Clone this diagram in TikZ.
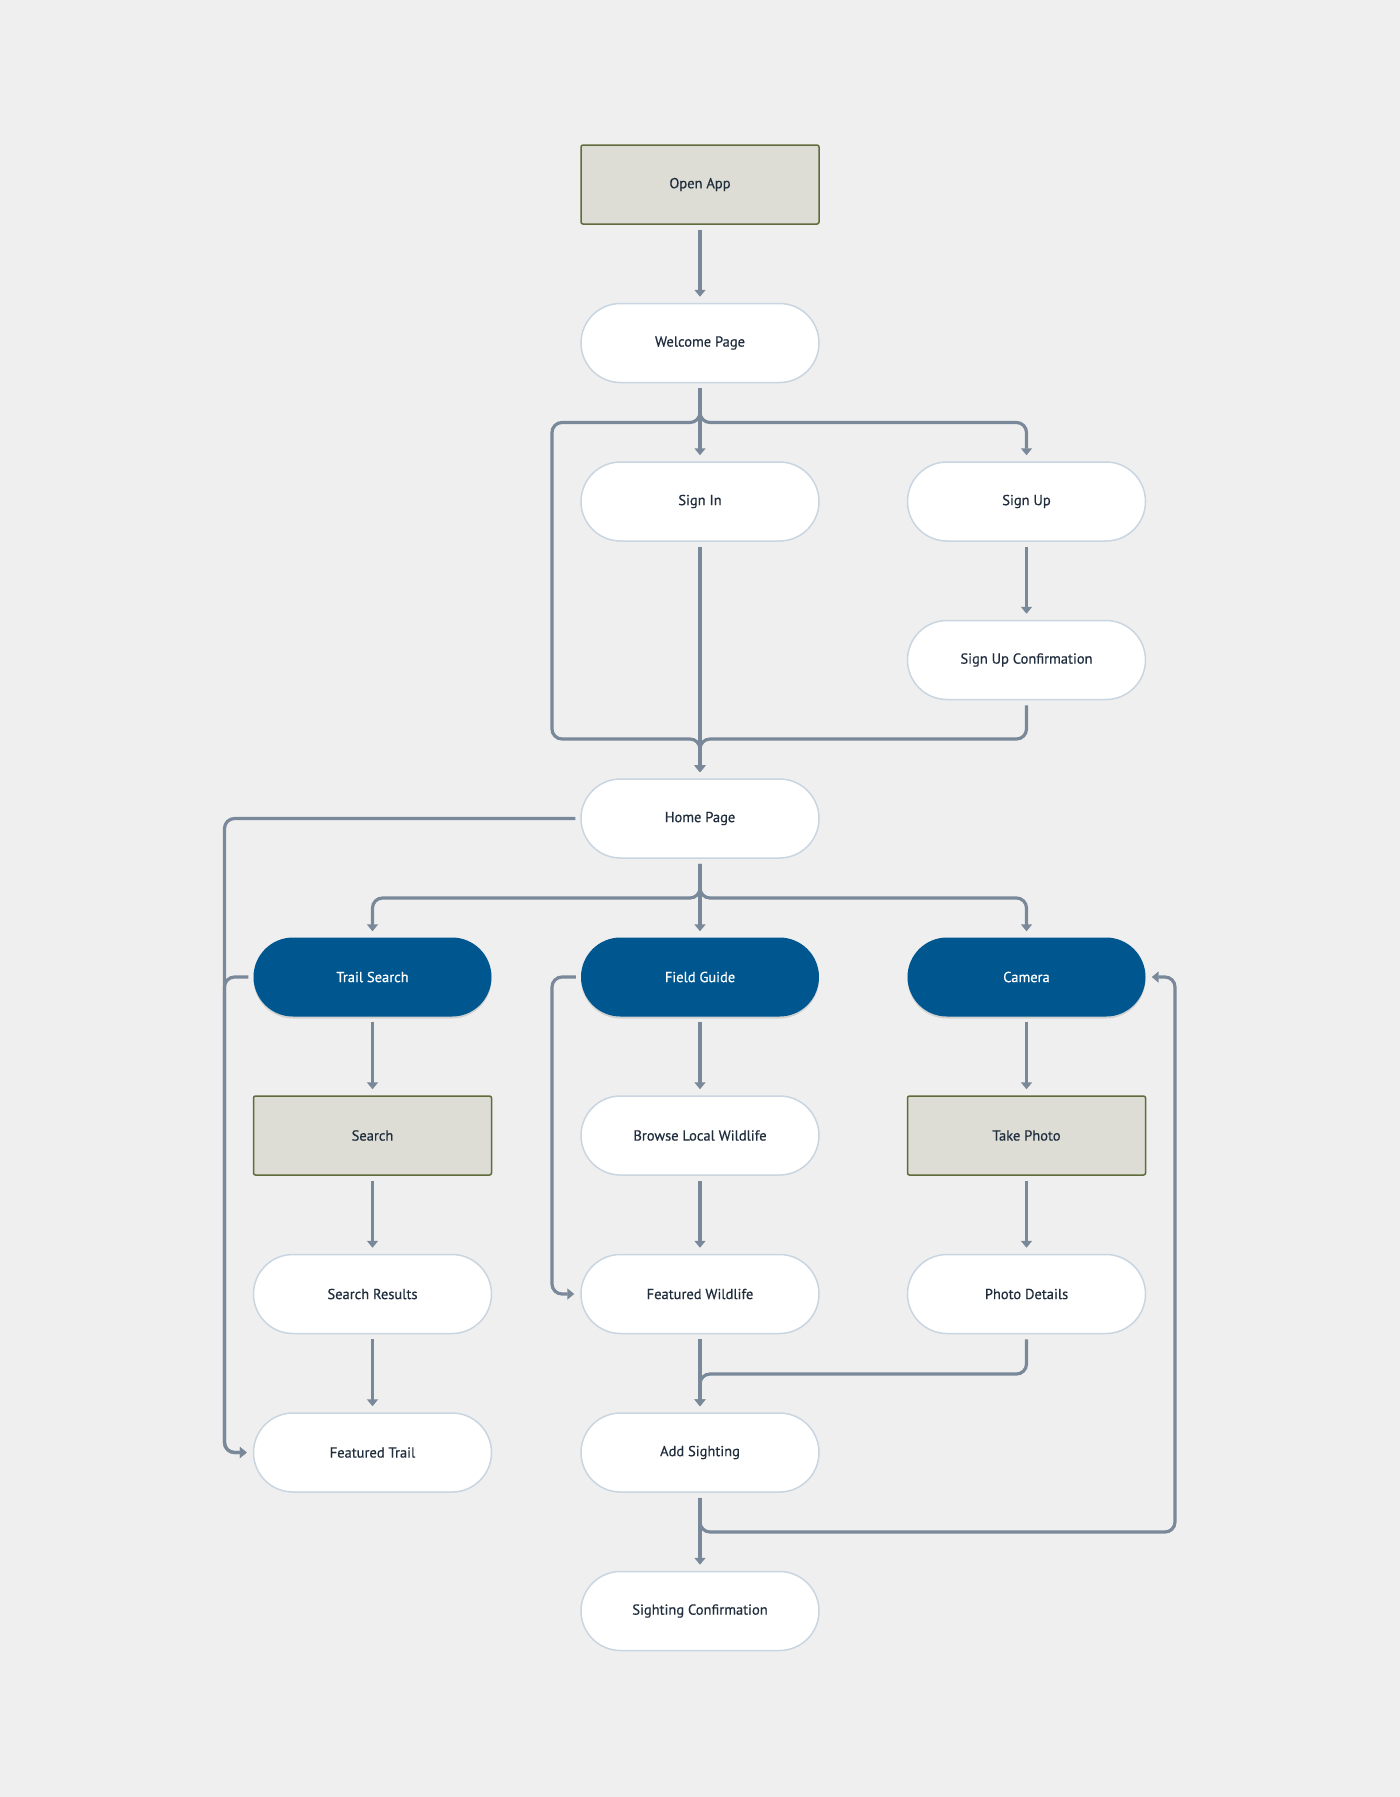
\documentclass[tikz,border=0pt]{standalone}
\usepackage{fontspec}
\setmainfont{PT Sans}
\newfontfamily\nodefont[FakeBold=0.5]{PT Sans}
\usetikzlibrary{arrows.meta,calc,shadows}
\definecolor{bgc}{HTML}{EFEFEF}
\definecolor{linec}{HTML}{7A8999}
\definecolor{pillborder}{HTML}{C9D5E0}
\definecolor{bluec}{HTML}{00578F}
\definecolor{rectfill}{HTML}{DDDDD5}
\definecolor{rectborder}{HTML}{5F6B3B}
\definecolor{textc}{HTML}{1F2D3D}
\tikzset{
  base/.style={minimum width=238pt, minimum height=79pt, inner sep=0pt, font=\nodefont\fontsize{14.5}{16}\selectfont, text=textc},
  pill/.style={base, rounded corners=39.5pt, fill=white, draw=pillborder, line width=1.5pt},
  bluepill/.style={base, rounded corners=39.5pt, fill=bluec, text=white, draw=none,
     drop shadow={shadow xshift=0pt, shadow yshift=-2pt, opacity=0.12, fill=black}},
  actbox/.style={base, rounded corners=2pt, fill=rectfill, draw=rectborder, line width=1.5pt},
  conn/.style={draw=linec, line width=3.2pt, rounded corners=10pt, -{Triangle[width=11pt,length=7pt]}},
}
\begin{document}
\begin{tikzpicture}[x=1pt, y=-1pt]
\fill[bgc] (0,0) rectangle (1400,1797);
\useasboundingbox (0,0) rectangle (1400,1797);

\node[actbox] (open) at (700,184.5) {Open App};
\node[pill] (welcome) at (700,343) {Welcome Page};
\node[pill] (signin) at (700,501.5) {Sign In};
\node[pill] (signup) at (1026.5,501.5) {Sign Up};
\node[pill] (signupc) at (1026.5,660) {Sign Up Confirmation};
\node[pill] (home) at (700,818.5) {Home Page};
\node[bluepill] (trail) at (372.5,977) {Trail Search};
\node[bluepill] (field) at (700,977) {Field Guide};
\node[bluepill] (camera) at (1026.5,977) {Camera};
\node[actbox] (search) at (372.5,1135.5) {Search};
\node[pill] (browse) at (700,1135.5) {Browse Local Wildlife};
\node[actbox] (photo) at (1026.5,1135.5) {Take Photo};
\node[pill] (results) at (372.5,1294) {Search Results};
\node[pill] (featwild) at (700,1294) {Featured Wildlife};
\node[pill] (photodet) at (1026.5,1294) {Photo Details};
\node[pill] (feattrail) at (372.5,1452.5) {Featured Trail};
\node[pill] (addsight) at (700,1452.5) {Add Sighting};
\node[pill] (sightconf) at (700,1611) {Sighting Confirmation};

% straight connectors
\foreach \a/\b in {open/welcome, welcome/signin, signin/home, signup/signupc,
  home/field, trail/search, search/results, results/feattrail,
  field/browse, browse/featwild, featwild/addsight, addsight/sightconf,
  camera/photo, photo/photodet}
  \draw[conn] ($(\a.south)+(0,5)$) -- ($(\b.north)+(0,-6)$);

% welcome branches
\draw[conn] ($(welcome.south)+(0,5)$) |- (1026.5,422.5) -- ($(signup.north)+(0,-6)$);
\draw[conn] ($(welcome.south)+(0,5)$) |- (552,422.5) |- (700,739) -- ($(home.north)+(0,-6)$);
\draw[conn] ($(signupc.south)+(0,5)$) |- (700,739) -- ($(home.north)+(0,-6)$);

% home branches
\draw[conn] ($(home.south)+(0,5)$) |- (372.5,898) -- ($(trail.north)+(0,-6)$);
\draw[conn] ($(home.south)+(0,5)$) |- (1026.5,898) -- ($(camera.north)+(0,-6)$);
\draw[conn] ($(home.west)+(-5,0)$) -| (224.5,1452.5) -- ($(feattrail.west)+(-6,0)$);
\draw[conn] ($(trail.west)+(-5,0)$) -| (224.5,1452.5) -- ($(feattrail.west)+(-6,0)$);

% field guide loop
\draw[conn] ($(field.west)+(-5,0)$) -| (552,1294) -- ($(featwild.west)+(-6,0)$);

% photo details to add sighting
\draw[conn] ($(photodet.south)+(0,5)$) |- (700,1374) -- ($(addsight.north)+(0,-6)$);

% add sighting back to camera
\draw[conn] ($(addsight.south)+(0,5)$) |- (1175,1532) |- ($(camera.east)+(6,0)$);
\end{tikzpicture}
\end{document}
